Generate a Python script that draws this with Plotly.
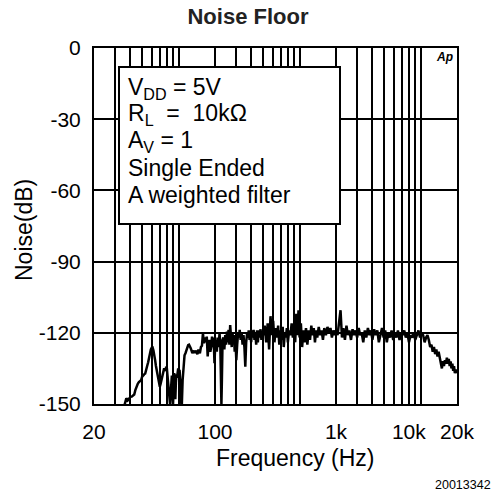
import plotly.graph_objects as go

# ---- data ----
f1 = [35.5, 36, 37, 38, 39, 40, 41, 42, 43, 44, 45, 46, 47, 48, 49, 50, 51, 52, 53, 54,
      55, 56, 57, 58, 59, 60, 61, 62, 63, 64, 65, 66, 67, 68, 69, 70]
d1 = [-151, -149.7, -147.6, -148.5, -147.8, -147, -146.9, -146.3, -146, -144, -142.5, -141.5,
      -140.8, -140.2, -140, -138.5, -137.8, -137.5, -137.2, -136, -134, -132.5, -130, -128,
      -127, -126.3, -126.2, -127.5, -129, -131.5, -134, -136, -138, -139.5, -141.5, -142.7]

f2 = [71, 72, 73, 74, 75, 76, 77, 78, 79, 80, 81, 82, 83, 84, 85, 86, 87, 88, 89, 90,
      91, 92, 93, 94, 95, 96, 97, 98, 99, 100, 102, 104, 105, 106, 108, 110, 112, 114, 116, 118,
      120, 122, 124, 126, 128, 130, 132, 134, 136, 138, 140, 143, 146, 150, 153, 156, 159, 162,
      165, 168, 171, 174, 177, 180, 183, 186, 189, 192, 195, 198]
d2 = [-141.5, -140, -139, -137, -135.7, -135, -135.5, -136, -134.3, -135, -138, -141, -144, -147,
      -150, -146, -140, -138, -145, -150, -143, -137, -141, -148, -141, -137.5, -139, -136, -135.5,
      -135.5, -136, -143, -150, -153, -140, -131.5, -129.5, -128.6, -127, -125.8, -125.2, -125,
      -125.5, -126.5, -127.5, -128.6, -128, -127.5, -128.6, -127.5, -128, -129, -127, -128.6,
      -126, -125.5, -120.2, -124.4, -122, -124, -121.6, -130, -125, -123, -128, -126, -121.6,
      -126, -122, -132.8]

f3 = [201, 204, 207, 210, 214, 218, 221, 224, 226, 228, 231, 235, 239, 243, 247, 251, 255, 259,
      263, 267, 271, 275, 279, 283, 287, 291, 295, 300, 305, 310, 315, 320, 326, 332, 338, 344,
      350, 356, 362, 368, 374, 380, 386, 392, 398, 404, 410, 417, 424, 431, 438, 445, 452, 460,
      468, 476, 484, 492]
d3 = [-125, -123, -128, -122, -126, -120.2, -124, -135, -150, -140, -123, -122, -127, -121, -125,
      -119.5, -124, -118.8, -125, -116.7, -122, -126, -120, -124, -121, -128, -123, -131.5, -125,
      -120.5, -122, -118.8, -123, -120, -125, -121, -126, -134.3, -124, -120.5, -122, -119, -123,
      -120, -124, -119, -122, -118.8, -123, -120, -125, -119, -124, -119, -122, -118.5, -123, -120]

f4 = [500, 515, 530, 545, 560, 575, 590, 605, 620, 635, 650, 665, 680, 695, 710, 725, 740, 755,
      770, 785, 800, 820, 840, 860, 880, 900, 920, 940, 960, 980, 1000, 1025, 1050, 1075, 1100,
      1130, 1160, 1190, 1220, 1250, 1280, 1310, 1340, 1370, 1400, 1440, 1480, 1520, 1560, 1600,
      1650, 1700, 1750, 1800, 1850, 1900, 1950]
d4 = [-121, -117, -124, -116, -127, -113, -121, -115, -124, -118, -122, -117, -125, -119, -123,
      -117.5, -126, -120, -122, -118, -124, -119, -121, -116, -122, -118, -124, -112, -121, -110.5,
      -122, -116, -126, -119, -124, -118, -125, -119, -123, -117, -121, -118, -124, -119, -122,
      -117.5, -121, -119, -123, -118, -121, -117.5, -120, -118, -122, -119, -121]

f5 = [2000, 2060, 2120, 2180, 2240, 2300, 2370, 2440, 2510, 2580, 2660, 2740, 2820, 2900, 2990,
      3080, 3170, 3260, 3360, 3460, 3560, 3670, 3780, 3890, 4000, 4130, 4260, 4390, 4520, 4660,
      4800, 4950, 5100, 5260, 5420, 5590, 5760, 5940, 6120, 6310, 6500, 6700, 6900, 7110, 7330,
      7550, 7780, 8020, 8260, 8510, 8770, 9040, 9320, 9600, 9900]
d5 = [-119, -121, -116, -110.5, -122, -118, -123, -117, -121, -119, -123, -118.5, -121, -119, -122,
      -118, -121, -120, -124, -119, -122, -118, -121, -119, -123, -118.5, -121, -119, -124, -120,
      -118, -122, -119, -124, -120, -122, -119, -123, -120, -122, -119, -123, -120, -121, -119,
      -122, -120, -124, -121, -122, -120, -123, -121, -119, -122]

f6 = [10200, 10500, 10800, 11100, 11400, 11700, 12000, 12300, 12600, 12900, 13200, 13500, 13800,
      14100, 14400, 14700, 15000, 15300, 15600, 15900, 16200, 16500, 16800, 17100, 17400, 17700,
      18000, 18300, 18600, 18900, 19200, 19500, 20000]
d6 = [-120, -121, -124, -122, -121, -123, -126, -125, -128, -126, -129, -127, -130, -128, -131,
      -133, -135, -132, -134, -131.5, -133, -130.5, -133, -131, -134, -132, -135, -133, -136, -134,
      -137, -135.5, -137]

freq_hz = f1 + f2 + f3 + f4 + f5 + f6
noise_db = d1 + d2 + d3 + d4 + d5 + d6

x_grid_hz = [20, 30, 40, 50, 60, 70, 80, 90, 100, 200, 300, 400, 500, 600, 700, 800, 900,
             1000, 2000, 3000, 4000, 5000, 6000, 7000, 8000, 9000, 10000, 20000]
# label placement as printed on the reference
x_label_hz = [20, 200, 2000, 8000, 20000]
x_label_text = ["20", "100", "1k", "10k", "20k"]
y_ticks = [0, -30, -60, -90, -120, -150]

box_lines = ["V<sub>DD</sub> = 5V", "R<sub>L</sub>  =  10kΩ", "A<sub>V</sub> = 1",
             "Single Ended", "A weighted filter"]

# ---- figure ----
FONT = "Liberation Sans, Arial, Helvetica, sans-serif"
W, H = 496, 495
PL, PR, PT, PB = 94, 457, 48, 404   # plot area in page pixels
PW, PH = PR - PL, PB - PT


def px_x(px):
    return (px - PL) / PW


def px_y(py):
    return (PB - py) / PH


fig = go.Figure()
fig.add_trace(go.Scatter(x=freq_hz, y=noise_db, mode="lines",
                         line=dict(color="black", width=2.5), hoverinfo="skip"))

fig.update_xaxes(type="log", range=[1.30103, 4.30103],
                 tickmode="array", tickvals=x_label_hz, ticktext=x_label_text,
                 showgrid=False,
                 minor=dict(tickmode="array", tickvals=x_grid_hz, showgrid=True,
                            gridcolor="black", gridwidth=1.6, ticks=""),
                 showline=True, mirror=True, linecolor="black", linewidth=2,
                 ticks="", ticklen=0, ticklabelstandoff=8,
                 tickfont=dict(size=21, color="black", family=FONT), zeroline=False)
fig.update_yaxes(range=[-150, 0], tickmode="array", tickvals=y_ticks,
                 ticktext=[str(v) for v in y_ticks],
                 showgrid=True, gridcolor="black", gridwidth=1.6,
                 showline=True, mirror=True, linecolor="black", linewidth=2,
                 ticks="", ticklen=0, ticklabelstandoff=7,
                 tickfont=dict(size=21, color="black", family=FONT), zeroline=False)

# legend box
fig.add_shape(type="rect", xref="paper", yref="paper",
              x0=px_x(119), x1=px_x(340), y0=px_y(224), y1=px_y(67),
              fillcolor="white", line=dict(color="black", width=2), layer="above")
line_y_px = [88, 115, 141.5, 168, 195]
for txt, py in zip(box_lines, line_y_px):
    fig.add_annotation(text=txt, xref="paper", yref="paper", x=px_x(126),
                       y=px_y(py), xanchor="left", yanchor="middle", showarrow=False,
                       font=dict(size=23, color="black", family=FONT))

fig.add_annotation(text="<b><i>Ap</i></b>", xref="paper", yref="paper",
                   x=px_x(444), y=px_y(57), showarrow=False,
                   xanchor="center", yanchor="middle",
                   font=dict(size=12, color="black", family=FONT))

fig.add_annotation(text="Frequency (Hz)", xref="paper", yref="paper",
                   x=px_x(295), y=px_y(458), showarrow=False,
                   xanchor="center", yanchor="middle",
                   font=dict(size=23, color="black", family=FONT))
fig.add_annotation(text="Noise(dB)", xref="paper", yref="paper",
                   x=px_x(24), y=px_y(230), showarrow=False, textangle=-90,
                   xanchor="center", yanchor="middle",
                   font=dict(size=23, color="black", family=FONT))
fig.add_annotation(text="20013342", xref="paper", yref="paper",
                   x=px_x(493), y=px_y(485), showarrow=False,
                   xanchor="right", yanchor="middle",
                   font=dict(size=12.5, color="black", family=FONT))

fig.update_layout(
    width=W, height=H,
    margin=dict(l=PL, r=W - PR, t=PT, b=H - PB),
    paper_bgcolor="white", plot_bgcolor="white",
    showlegend=False,
    font=dict(family=FONT, color="black"),
    title=dict(text="<b>Noise Floor</b>", x=248 / W, xanchor="center",
               y=1 - 16 / H, yanchor="middle", yref="container",
               font=dict(size=22, color="#222222", family=FONT)),
)

# remove the browser's default page margin so the figure sits at the window's corner
fig.write_html("out.html", config={"displayModeBar": False},
               post_script="document.body.style.margin='0';document.body.style.padding='0';")
